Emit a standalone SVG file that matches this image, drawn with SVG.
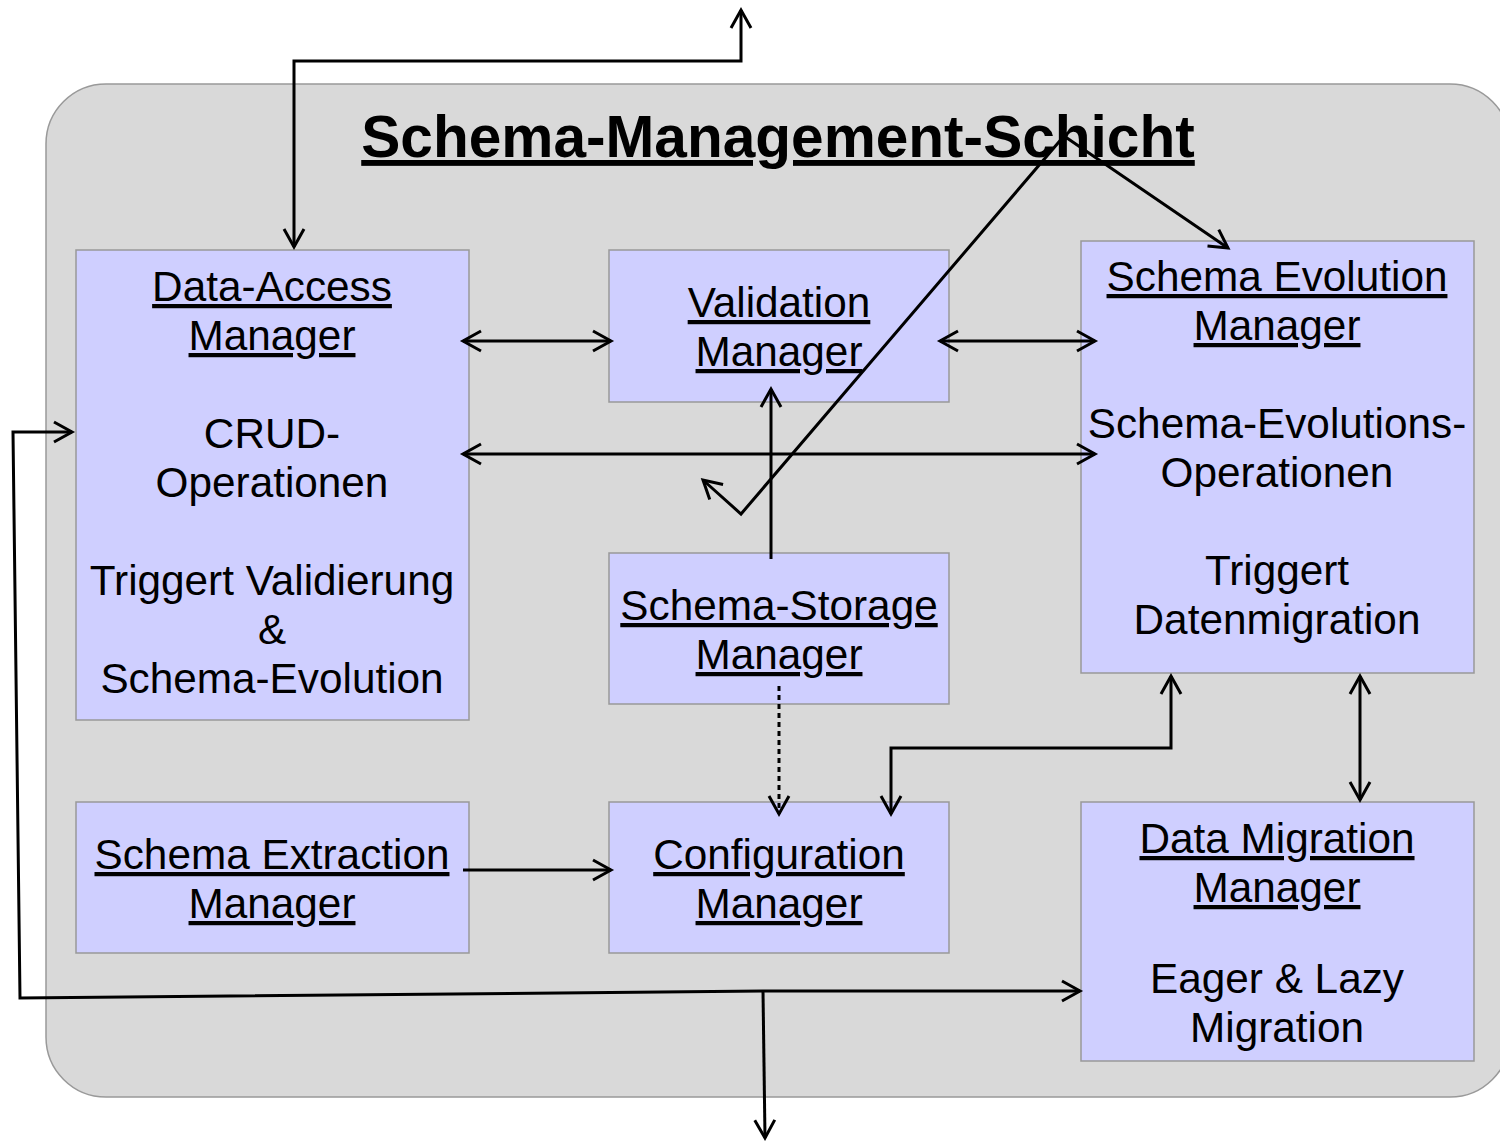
<svg xmlns="http://www.w3.org/2000/svg" width="1500" height="1141" viewBox="0 0 1500 1141">
<style>
.node rect{fill:#CFCFFF;stroke:#999999;stroke-width:1.5}
.t{font-family:"Liberation Sans",Arial,sans-serif;font-size:42.3px;fill:#000;text-anchor:middle}
.u{text-decoration:underline}
.c{fill:none;stroke:#000;stroke-width:3;stroke-linejoin:miter}
</style>
<defs>
<marker id="ah" viewBox="-22 -13 26 26" refX="0" refY="0" markerWidth="26" markerHeight="26" markerUnits="userSpaceOnUse" orient="auto-start-reverse">
<path d="M-18,-10 L0,0 L-18,10" fill="none" stroke="#000" stroke-width="3"/>
</marker>
</defs>
<rect id="layer" x="46" y="84" width="1464" height="1013" rx="60" ry="60" fill="#D9D9D9" stroke="#999999" stroke-width="1.5"/>
<text x="778" y="157" font-family="'Liberation Sans',Arial,sans-serif" font-size="58.6" font-weight="bold" text-anchor="middle" text-decoration="underline">Schema-Management-Schicht</text>

<g id="data-access" class="node">
<rect x="76" y="250" width="393" height="470"/>
<text class="t u" x="272" y="301">Data-Access</text>
<text class="t u" x="272" y="350">Manager</text>
<text class="t" x="272" y="448">CRUD-</text>
<text class="t" x="272" y="497">Operationen</text>
<text class="t" x="272" y="595">Triggert Validierung</text>
<text class="t" x="272" y="644">&amp;</text>
<text class="t" x="272" y="693">Schema-Evolution</text>
</g>
<g id="validation" class="node">
<rect x="609" y="250" width="340" height="152"/>
<text class="t u" x="779" y="317">Validation</text>
<text class="t u" x="779" y="366">Manager</text>
</g>
<g id="schema-evolution" class="node">
<rect x="1081" y="241" width="393" height="432"/>
<text class="t u" x="1277" y="291">Schema Evolution</text>
<text class="t u" x="1277" y="340">Manager</text>
<text class="t" x="1277" y="438">Schema-Evolutions-</text>
<text class="t" x="1277" y="487">Operationen</text>
<text class="t" x="1277" y="585">Triggert</text>
<text class="t" x="1277" y="634">Datenmigration</text>
</g>
<g id="schema-storage" class="node">
<rect x="609" y="553" width="340" height="151"/>
<text class="t u" x="779" y="620">Schema-Storage</text>
<text class="t u" x="779" y="669">Manager</text>
</g>
<g id="schema-extraction" class="node">
<rect x="76" y="802" width="393" height="151"/>
<text class="t u" x="272" y="869">Schema Extraction</text>
<text class="t u" x="272" y="918">Manager</text>
</g>
<g id="configuration" class="node">
<rect x="609" y="802" width="340" height="151"/>
<text class="t u" x="779" y="869">Configuration</text>
<text class="t u" x="779" y="918">Manager</text>
</g>
<g id="data-migration" class="node">
<rect x="1081" y="802" width="393" height="259"/>
<text class="t u" x="1277" y="853">Data Migration</text>
<text class="t u" x="1277" y="902">Manager</text>
<text class="t" x="1277" y="993">Eager &amp; Lazy</text>
<text class="t" x="1277" y="1042">Migration</text>
</g>

<g id="connectors">
<polyline class="c" points="294,247 294,61 741,61 741,10" marker-start="url(#ah)" marker-end="url(#ah)"/>
<line class="c" x1="463" y1="341" x2="611" y2="341" marker-start="url(#ah)" marker-end="url(#ah)"/>
<line class="c" x1="940" y1="341" x2="1095" y2="341" marker-start="url(#ah)" marker-end="url(#ah)"/>
<line class="c" x1="463" y1="454" x2="1095" y2="454" marker-start="url(#ah)" marker-end="url(#ah)"/>
<line class="c" x1="771" y1="559" x2="771" y2="389" marker-end="url(#ah)"/>
<polyline class="c" points="703,480 741,514 1064,136 1228,248" marker-start="url(#ah)" marker-end="url(#ah)"/>
<line class="c" x1="779" y1="686" x2="779" y2="814" stroke-dasharray="5,4" stroke-width="2.5" marker-end="url(#ah)"/>
<polyline class="c" points="1171,676 1171,748 891,748 891,814" marker-start="url(#ah)" marker-end="url(#ah)"/>
<line class="c" x1="1360" y1="676" x2="1360" y2="800" marker-start="url(#ah)" marker-end="url(#ah)"/>
<line class="c" x1="463" y1="870" x2="611" y2="870" marker-end="url(#ah)"/>
<polyline class="c" points="1080,991 763,991 20,998 13,432 72,432" marker-start="url(#ah)" marker-end="url(#ah)"/>
<polyline class="c" points="763,991 765,1138" marker-end="url(#ah)"/>
</g>
</svg>
